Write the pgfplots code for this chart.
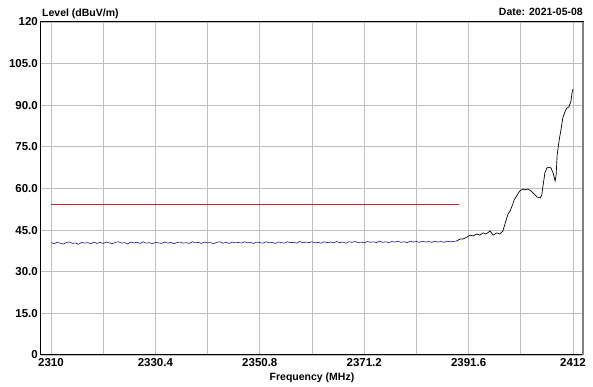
\documentclass[border=0pt]{standalone}
\usepackage{pgfplots}
\pgfplotsset{compat=1.18}
\usepackage{fontspec}
\setmainfont{Liberation Sans}
\definecolor{gridgray}{RGB}{190,190,190}
\definecolor{traceblue}{RGB}{25,25,140}
\definecolor{limitred}{RGB}{210,30,50}
\begin{document}
\begin{tikzpicture}
\useasboundingbox (-41pt,-32pt) rectangle (552pt,355pt);
\begin{axis}[
  scale only axis,
  width=542pt, height=333pt,
  xmin=2308.05, xmax=2413.95,
  ymin=0, ymax=120,
  xtick={2310,2320.2,2330.4,2340.6,2350.8,2361,2371.2,2381.4,2391.6,2401.8,2412},
  xticklabels={2310,,2330.4,,2350.8,,2371.2,,2391.6,,2412},
  ytick={0,15,30,45,60,75,90,105,120},
  yticklabels={0,15.0,30.0,45.0,60.0,75.0,90.0,105.0,120},
  major tick length=0pt,
  grid=major,
  major grid style={gridgray, line width=0.9pt},
  axis line style={black, line width=1pt},
  /pgf/number format/assume math mode=true,
  xticklabel style={anchor=north, inner sep=0pt, yshift=-3pt, font=\fontsize{11.5}{13}\selectfont\bfseries},
  yticklabel style={anchor=east, inner sep=0pt, xshift=-3pt, font=\fontsize{11.5}{13}\selectfont\bfseries},
  clip=true,
]
\addplot[draw=limitred, line width=1.2pt] coordinates {(2310,54.1) (2350,54.1) (2389.7,54.1)};
\addplot[draw=traceblue, line width=0.6pt] coordinates {
(2310.0,40.5)(2310.6,40.1)(2311.2,40.6)(2311.8,40.3)(2312.4,40.0)(2313.0,40.5)(2313.6,40.7)(2314.2,40.2)
(2314.8,40.4)(2315.4,39.9)(2316.0,40.6)(2316.6,40.3)(2317.2,40.5)(2317.8,40.1)(2318.4,40.7)(2319.0,40.2)
(2319.6,40.6)(2320.2,40.2)(2320.8,40.7)(2321.4,40.4)(2322.0,40.1)(2322.6,40.6)(2323.2,40.8)(2323.8,40.3)
(2324.4,40.5)(2325.0,40.0)(2325.6,40.7)(2326.2,40.4)(2326.8,40.6)(2327.4,40.2)(2328.0,40.8)(2328.6,40.3)
(2329.2,40.5)(2329.8,40.1)(2330.4,40.6)(2331.0,40.4)(2331.6,40.2)(2332.2,40.7)(2332.8,40.3)(2333.4,40.6)
(2334.0,40.1)(2334.6,40.5)(2335.2,40.7)(2335.8,40.3)(2336.4,40.5)(2337.0,40.2)(2337.6,40.8)(2338.2,40.4)
(2338.8,40.6)(2339.4,40.2)(2340.0,40.7)(2340.6,40.4)(2341.2,40.5)(2341.8,40.1)(2342.4,40.6)(2343.0,40.8)
(2343.6,40.3)(2344.2,40.6)(2344.8,40.2)(2345.4,40.7)(2346.0,40.4)(2346.6,40.6)(2347.2,40.3)(2347.8,40.8)
(2348.4,40.4)(2349.0,40.6)(2349.6,40.2)(2350.2,40.7)(2350.8,40.5)(2351.4,40.3)(2352.0,40.8)(2352.6,40.4)
(2353.2,40.6)(2353.8,40.2)(2354.4,40.7)(2355.0,40.5)(2355.6,40.3)(2356.2,40.8)(2356.8,40.5)(2357.4,40.6)
(2358.0,40.3)(2358.6,40.9)(2359.2,40.4)(2359.8,40.7)(2360.4,40.5)(2361.0,40.8)(2361.6,40.4)(2362.2,40.6)
(2362.8,40.3)(2363.4,40.8)(2364.0,40.5)(2364.6,40.7)(2365.2,40.4)(2365.8,40.9)(2366.4,40.5)(2367.0,40.7)
(2367.6,40.3)(2368.2,40.8)(2368.8,40.6)(2369.4,40.9)(2370.0,40.5)(2370.6,40.7)(2371.2,40.4)(2371.8,40.9)
(2372.4,40.6)(2373.0,40.8)(2373.6,40.5)(2374.2,41.0)(2374.8,40.6)(2375.4,40.8)(2376.0,40.5)(2376.6,40.9)
(2377.2,40.7)(2377.8,41.0)(2378.4,40.6)(2379.0,40.8)(2379.6,40.5)(2380.2,41.0)(2380.8,40.7)(2381.4,40.9)
(2382.0,40.6)(2382.6,41.0)(2383.2,40.7)(2383.8,40.9)(2384.4,40.6)(2385.0,41.0)(2385.6,40.7)(2386.2,40.9)
(2386.8,40.6)(2387.4,41.0)(2388.0,40.8)(2388.6,40.9)(2389.3,41.1)
};
\addplot[draw=black, line width=0.7pt] coordinates {
(2389.3,41.1)(2389.9,41.8)(2390.5,41.8)(2391.3,42.5)(2391.9,43.2)(2392.5,42.9)(2393.2,43.6)(2393.8,43.2)
(2394.4,44.0)(2395.0,43.6)(2395.8,44.7)(2396.4,43.2)(2397.1,44.0)(2397.7,43.6)(2398.3,44.7)(2398.7,47.2)
(2399.3,50.8)(2399.7,51.9)(2400.1,53.7)(2400.5,55.9)(2401.1,57.7)(2401.6,59.1)(2402.2,59.8)(2402.6,59.5)
(2403.2,59.8)(2403.8,59.1)(2404.4,58.0)(2405.0,56.9)(2405.6,56.6)(2405.9,57.7)(2406.1,60.5)(2406.5,65.6)
(2406.9,67.4)(2407.3,67.7)(2407.7,67.4)(2408.1,65.6)(2408.5,62.7)(2408.7,64.9)(2408.9,72.1)(2409.3,77.5)
(2409.7,81.8)(2410.0,85.4)(2410.4,87.6)(2410.8,89.0)(2411.2,89.4)(2411.6,91.5)(2411.8,94.4)(2412.0,95.9)
};
\end{axis}
\draw[gray, line width=1.2pt] (542pt,0pt) -- (542pt,333pt);
\node[anchor=west, inner sep=0pt, font=\fontsize{10.5}{12}\selectfont\bfseries] at (1pt,341pt) {Level (dBuV/m)};
\node[anchor=east, inner sep=0pt, font=\fontsize{10.5}{12}\selectfont\bfseries] at (542pt,343pt) {Date: 2021-05-08};
\node[anchor=center, inner sep=0pt, font=\fontsize{10.5}{12}\selectfont\bfseries] at (271pt,-23pt) {Frequency (MHz)};
\end{tikzpicture}
\end{document}
